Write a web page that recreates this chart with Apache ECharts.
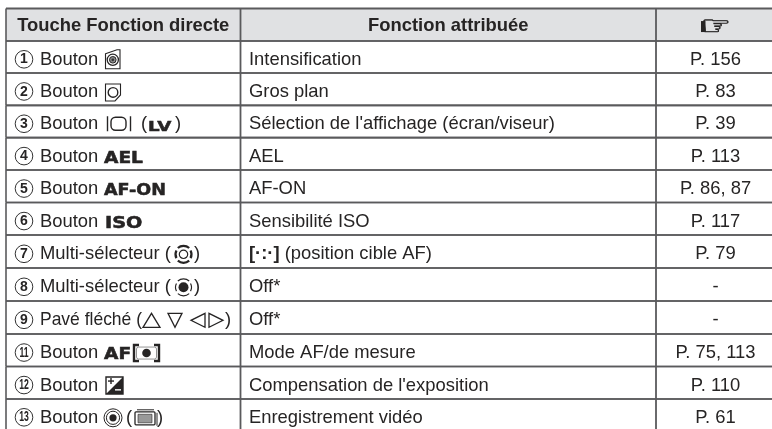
<!DOCTYPE html>
<html><head><meta charset="utf-8">
<style>html,body{margin:0;padding:0;background:#fff}#c{width:772px;height:429px;filter:blur(.35px)}</style>
<script src="https://cdn.jsdelivr.net/npm/echarts@6/dist/echarts.min.js"></script>
</head><body><div id="c"></div>
<script>
// ---- table content ----
const headers = ['Touche Fonction directe', 'Fonction attribuée', '☞'];
const keyNumbers = ['1','2','3','4','5','6','7','8','9','11','12','13'];
const keyNames = ['Bouton','Bouton','Bouton','Bouton','Bouton','Bouton','Multi-sélecteur (','Multi-sélecteur (','Pavé fléché (','Bouton','Bouton','Bouton'];
const keyBadges = ['','','LV','AEL','AF-ON','ISO','','','','AF','',''];
const keyGlyphs = ['peaking','magnify','monitor','','','','ringOpen','ringFilled','arrows','meterBracket','exposure','record'];
const functions = ['Intensification','Gros plan',"Sélection de l'affichage (écran/viseur)",'AEL','AF-ON','Sensibilité ISO','{b|[·:·]} (position cible AF)','Off*','Off*','Mode AF/de mesure',"Compensation de l'exposition",'Enregistrement vidéo'];
const pages = ['P. 156','P. 83','P. 39','P. 113','P. 86, 87','P. 117','P. 79','-','-','P. 75, 113','P. 110','P. 61'];

// ---- layout (pixels on the hidden axes) ----
const colEdges = [6, 240.5, 656, 772];
const rowEdges = [8.5, 41, 73, 105.3, 137.6, 170, 202.5, 235, 268, 301, 334, 366.5, 399, 431];
const INK = '#262424', RULE = '#5a5a5c', HEAD = '#e0e1e3', SIZE = 18.4;
const FONT = '"Liberation Sans", Arial, sans-serif';
const badgeLook = {
  LV:{x:148,sx:1.26,size:14.5}, AEL:{x:104,sx:1.24,size:15}, 'AF-ON':{x:104,sx:1.17,size:15},
  ISO:{x:105,sx:1.28,size:15}, AF:{x:104,sx:1.24,size:15}
};
const glyphX = {peaking:105,magnify:105,monitor:107,ringOpen:174,ringFilled:174,arrows:143,meterBracket:133,exposure:106,record:104};
const closers = {2:[['(',141],[')',175]],6:[[')',194]],7:[[')',194]],8:[[')',225]],11:[['(',126],[')',157]]};
const nameSqueeze = {8:.95};

function txt(x,y,s,o){o=o||{};return {type:'text',x:x,y:y,scaleX:o.sx||1,scaleY:o.sy||1,silent:true,style:{
  text:s,fill:o.fill||INK,font:(o.weight||'normal')+' '+(o.size||SIZE)+'px '+(o.family||FONT),
  textAlign:o.align||'left',verticalAlign:'middle',
  rich:o.rich,stroke:o.stroke||null,lineWidth:o.lw||0}};}
const ln=(a,b,c,d,w,col)=>({type:'line',shape:{x1:a,y1:b,x2:c,y2:d},style:{stroke:col||INK,lineWidth:w||1}});
const circ=(x,y,r,f,s,w)=>({type:'circle',shape:{cx:x,cy:y,r:r},style:{fill:f||'none',stroke:s||null,lineWidth:w||0}});
const rct=(x,y,a,b,f,s,w,r)=>({type:'rect',shape:{x:x,y:y,width:a,height:b,r:r||0},style:{fill:f||'none',stroke:s||null,lineWidth:w||0}});
const poly=(p,f,s,w)=>({type:'polygon',shape:{points:p},style:{fill:f||'none',stroke:s||null,lineWidth:w||0}});
const pl=(p,s,w)=>({type:'polyline',shape:{points:p},style:{fill:'none',stroke:s||INK,lineWidth:w||1}});
const arc=(x,y,r,a,b,w)=>({type:'arc',shape:{cx:x,cy:y,r:r,startAngle:a,endAngle:b,clockwise:true},style:{fill:'none',stroke:INK,lineWidth:w||1}});

const glyphs = {
  peaking(){return [poly([[.5,-6],[12,-10],[15,-10],[15,9],[.5,9]],'#fff',INK,1.1),circ(7.8,0,5.6,'#fff',INK,1.3),circ(7.8,0,3.3,'#8b8b8b',INK,1),circ(7.8,0,1.4,'#333')];},
  magnify(){return [poly([[.5,-8],[15.5,-8],[15.5,3],[10,9],[.5,9]],'#fff',INK,1.1),circ(8,.5,4.8,'#fff',INK,1.4)];},
  monitor(){return [ln(.5,-8,.5,7,1.4),rct(4,-7,15,13,'none',INK,1.4,4.5),ln(23.5,-8,23.5,7,1.4)];},
  ringOpen(){return [circ(9.5,0,4.2,'none',INK,1.2),arc(9.5,0,8.5,-2.3,-.84,2.2),arc(9.5,0,8.5,.84,2.3,2.2),arc(9.5,0,8,-.5,.5,2.2),arc(9.5,0,8,2.64,3.64,2.2)];},
  ringFilled(){return [circ(9.5,0,5,INK),arc(9.5,0,8.5,-2.3,-.84,1.2),arc(9.5,0,8.5,.84,2.3,1.2),arc(9.5,0,8,-.5,.5,1.2),arc(9.5,0,8,2.64,3.64,1.2)];},
  arrows(){return [poly([[0,7],[8.5,-7],[17,7]],'none',INK,1.3),poly([[25,-7],[39,-7],[32,7]],'none',INK,1.3),poly([[62,-7],[62,7],[48,0]],'none',INK,1.3),poly([[66,-7],[66,7],[80,0]],'none',INK,1.3)];},
  meterBracket(){return [pl([[6,-8],[1,-8],[1,8],[6,8]],INK,2.4),pl([[21,-8],[26,-8],[26,8],[21,8]],INK,2.4),circ(13.5,0,4.3,INK),rct(3.5,-6,20,12,'none','#777',.8,2)];},
  exposure(){return [rct(0,-8.5,17,17,'#fff',INK,1.4),poly([[17,-8.5],[17,8.5],[0,8.5]],INK),ln(2,-4.5,8,-4.5,1.4),ln(5,-7.5,5,-1.5,1.4),ln(9,4.3,15,4.3,1.4,'#fff')];},
  record(){return [circ(9,0,9,'#fff',INK,1),circ(9,0,6.6,'#fff',INK,1),circ(9,0,3.6,INK),
    rct(31,-6,20,13,'#fff',INK,1.3,1),ln(33,-8,50,-8,1),ln(53,-5,53,8,1),rct(34,-3.5,14,8.5,'#999',INK,.6)];}
};

function keyCell(i,cy){
  const out=[];
  const n=keyNumbers[i], two=n.length>1, my=cy+2;
  out.push(circ(24,my,8.8,'#fff','#333',1));
  out.push(txt(24,my+.3,n,{weight:'bold',size:14,align:'center',sx:two?.62:1}));
  out.push(txt(40,cy+2.4,keyNames[i],{sx:nameSqueeze[i]}));
  const b=keyBadges[i];
  if(b){const L=badgeLook[b];out.push(txt(L.x,cy+5,b,{weight:'bold',size:L.size,family:'"DejaVu Sans"',sx:L.sx,stroke:INK,lw:.5}));}
  (closers[i]||[]).forEach(c=>out.push(txt(c[1],cy+2.4,c[0])));
  const g=keyGlyphs[i];
  if(g) out.push({type:'group',x:glyphX[g],y:cy+2.5,children:glyphs[g]()});
  return out;
}

function renderCell(params,api){
  const i=api.value(0), kind=api.value(1);
  const c=(x,y)=>api.coord([x,y]);
  const [x0,y0]=c(colEdges[0],rowEdges[i]), [x3,y1]=c(colEdges[3],rowEdges[i+1]);
  const [x1]=c(colEdges[1],0), [x2]=c(colEdges[2],0);
  const cy=(y0+y1)/2+.3, ch=[];
  if(kind===0){
    ch.push(rct(x0,y0,x3-x0,y1-y0,HEAD));
    ch.push(txt((x0+x1)/2,cy+1,headers[0],{weight:'bold',align:'center'}));
    ch.push(txt((x1+x2)/2,cy+1,headers[1],{weight:'bold',align:'center'}));
    ch.push(txt((x2+x3)/2+2,cy+3,headers[2],{size:34,sy:.8,align:'center',family:'"DejaVu Sans"',stroke:INK,lw:.6}));
    ch.push(rct((x2+x3)/2-13,cy-4,4.5,11,INK));
  } else {
    const r=i-1;
    ch.push(...keyCell(r,cy));
    ch.push(txt(x1+8.5,cy+2.4,functions[r],{rich:{b:{font:'bold '+SIZE+'px '+FONT,fill:INK}}}));
    ch.push(txt((x2+x3)/2+1.5,cy+2.4,pages[r],{align:'center'}));
  }
  ch.push(ln(x0,y0,x3,y0,kind===0?2:1.7,RULE));
  if(i<12) ch.push(ln(x0,y1,x3,y1,1.7,RULE));
  [x0,x1,x2].forEach(x=>ch.push(ln(x,y0,x,y1,x===x0?1.6:1.8,RULE)));
  return {type:'group',children:ch};
}

const rows = rowEdges.slice(0,-1).map((_,i)=>[i,i===0?0:1]);
const chart = echarts.init(document.getElementById('c'),null,{renderer:'canvas'});
chart.setOption({
  animation:false,
  backgroundColor:'#fff',
  grid:{left:0,right:0,top:0,bottom:0},
  xAxis:{type:'value',min:0,max:772,show:false},
  yAxis:{type:'value',min:0,max:429,inverse:true,show:false},
  series:[{type:'custom',coordinateSystem:'cartesian2d',clip:true,silent:true,data:rows,encode:{x:0,y:1},renderItem:renderCell}]
});
</script></body></html>
